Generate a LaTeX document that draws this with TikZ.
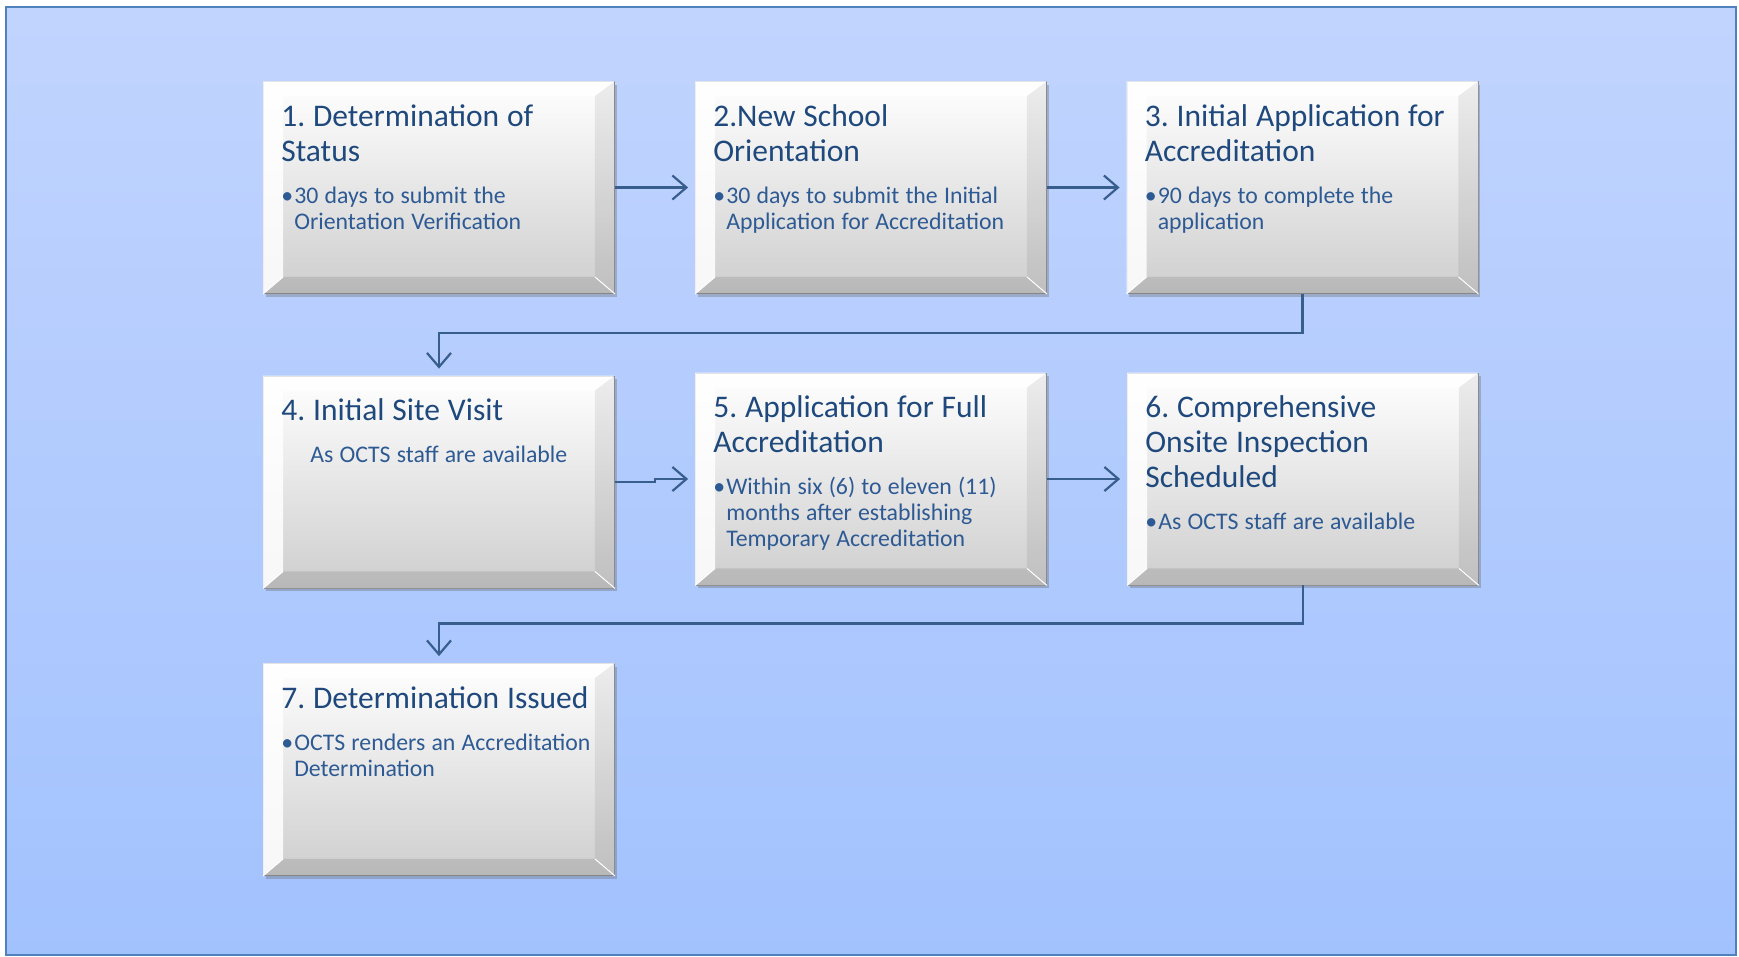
\documentclass[tikz,border=0pt]{standalone}
\usepackage{fontspec}
\setmainfont{Carlito}
\frenchspacing
\usetikzlibrary{arrows.meta,shadows}

\definecolor{bgtop}{RGB}{193,212,254}
\definecolor{bgbot}{RGB}{162,194,254}
\definecolor{framecol}{RGB}{79,129,189}
\definecolor{titlecol}{RGB}{31,73,125}
\definecolor{bodycol}{RGB}{46,90,148}
\definecolor{linkcol}{RGB}{56,94,142}
\definecolor{boxbot}{RGB}{206,206,206}
\definecolor{boxedge}{RGB}{150,150,150}

\newcommand{\steptitle}[1]{{\fontsize{31.5}{35}\selectfont\spaceskip=0.25em\color{titlecol}#1\par}}
\newcommand{\stepitem}[1]{\vspace{16pt}{\fontsize{23.8}{26}\selectfont\spaceskip=0.26em\color{bodycol}\let\\\newline\hangindent=13pt\hangafter=1\makebox[13pt][l]{\textbullet}#1\par}}
\newcommand{\stepnote}[1]{\vspace{16pt}{\fontsize{23.8}{26}\selectfont\spaceskip=0.26em\color{bodycol}\centering #1\par}}

\tikzset{
  stepbox/.style={draw=boxedge, line width=0.8pt, top color=white, bottom color=boxbot,
    minimum width=351pt, minimum height=212pt, inner sep=0pt,
    drop shadow={shadow xshift=2pt, shadow yshift=-3pt, opacity=0.35, fill=black!60}},
  steptext/.style={anchor=base west, inner sep=0pt, text width=315pt, align=left},
  flow/.style={draw=linkcol, line width=2.2pt, -{Straight Barb[length=14pt,width=24pt]}, shorten >=7pt}
}

\begin{document}
\begin{tikzpicture}[x=1pt, y=-1pt]
    % Arka plan ve çerçeve
    \fill[white] (0,0) rectangle (1739,956);
    \useasboundingbox (0,0) rectangle (1739,956);
    \shade[top color=bgtop, bottom color=bgbot] (6,7) rectangle (1736,955);
    \draw[framecol, line width=1.5pt] (6,7) rectangle (1736,955);

    % Kutular
    \node[stepbox] (b1) at (439,187.5) {};
    \node[stepbox] (b2) at (871,187.5) {};
    \node[stepbox] (b3) at (1302.5,187.5) {};
    \node[stepbox] (b4) at (439,482) {};
    \node[stepbox] (b5) at (871,479) {};
    \node[stepbox] (b6) at (1303,479) {};
    \node[stepbox] (b7) at (439,769.5) {};

    % Kabartma kenarlar
    \foreach \b in {b1,b2,b3,b4,b5,b6,b7}{
        \fill[white, opacity=0.75] (\b.north west) -- (\b.north east) -- ([shift={(-20pt,-15pt)}]\b.north east) -- ([shift={(20pt,-15pt)}]\b.north west) -- cycle;
        \fill[white, opacity=0.85] (\b.north west) -- ([shift={(20pt,-15pt)}]\b.north west) -- ([shift={(20pt,17pt)}]\b.south west) -- (\b.south west) -- cycle;
        \fill[black, opacity=0.07] (\b.north east) -- (\b.south east) -- ([shift={(-20pt,17pt)}]\b.south east) -- ([shift={(-20pt,-15pt)}]\b.north east) -- cycle;
        \fill[black, opacity=0.10] (\b.south west) -- ([shift={(20pt,17pt)}]\b.south west) -- ([shift={(-20pt,17pt)}]\b.south east) -- (\b.south east) -- cycle;
        \draw[white, line width=1pt] (\b.south west) -- ([shift={(20pt,17pt)}]\b.south west);
        \draw[white, line width=1pt] (\b.south east) -- ([shift={(-20pt,17pt)}]\b.south east);
    }

    % Metinler
    \node[steptext] (t1) at ([shift={(18pt,-45pt)}]b1.north west)
        {\steptitle{1. Determination of\\Status}\stepitem{30 days to submit the\\Orientation Verification}};
    \node[steptext] (t2) at ([shift={(18pt,-45pt)}]b2.north west)
        {\steptitle{2.New School\\Orientation}\stepitem{30 days to submit the Initial\\Application for Accreditation}};
    \node[steptext] (t3) at ([shift={(18pt,-45pt)}]b3.north west)
        {\steptitle{3. Initial Application for\\Accreditation}\stepitem{90 days to complete the\\application}};
    \node[steptext] (t4) at ([shift={(18pt,-45pt)}]b4.north west)
        {\steptitle{4. Initial Site Visit}\stepnote{As OCTS staff are available}};
    \node[steptext] (t5) at ([shift={(18pt,-45pt)}]b5.north west)
        {\steptitle{5. Application for Full\\Accreditation}\stepitem{Within six (6) to eleven (11)\\months after establishing\\Temporary Accreditation}};
    \node[steptext] (t6) at ([shift={(18pt,-45pt)}]b6.north west)
        {\steptitle{6. Comprehensive\\Onsite Inspection\\Scheduled}\stepitem{As OCTS staff are available}};
    \node[steptext] (t7) at ([shift={(18pt,-45pt)}]b7.north west)
        {\steptitle{7. Determination Issued}\stepitem{OCTS renders an Accreditation\\Determination}};

    % Oklar
    \draw[flow] (b1) -- (b2);
    \draw[flow] (b2) -- (b3);
    \draw[flow] (b3.south) -- ++(0,39) -| (b4.north);
    \draw[flow] (b4.east) -- ++(40,0) |- (b5.west);
    \draw[flow] (b5) -- (b6);
    \draw[flow] (b6.south) -- ++(0,38) -| (b7.north);
\end{tikzpicture}
\end{document}
